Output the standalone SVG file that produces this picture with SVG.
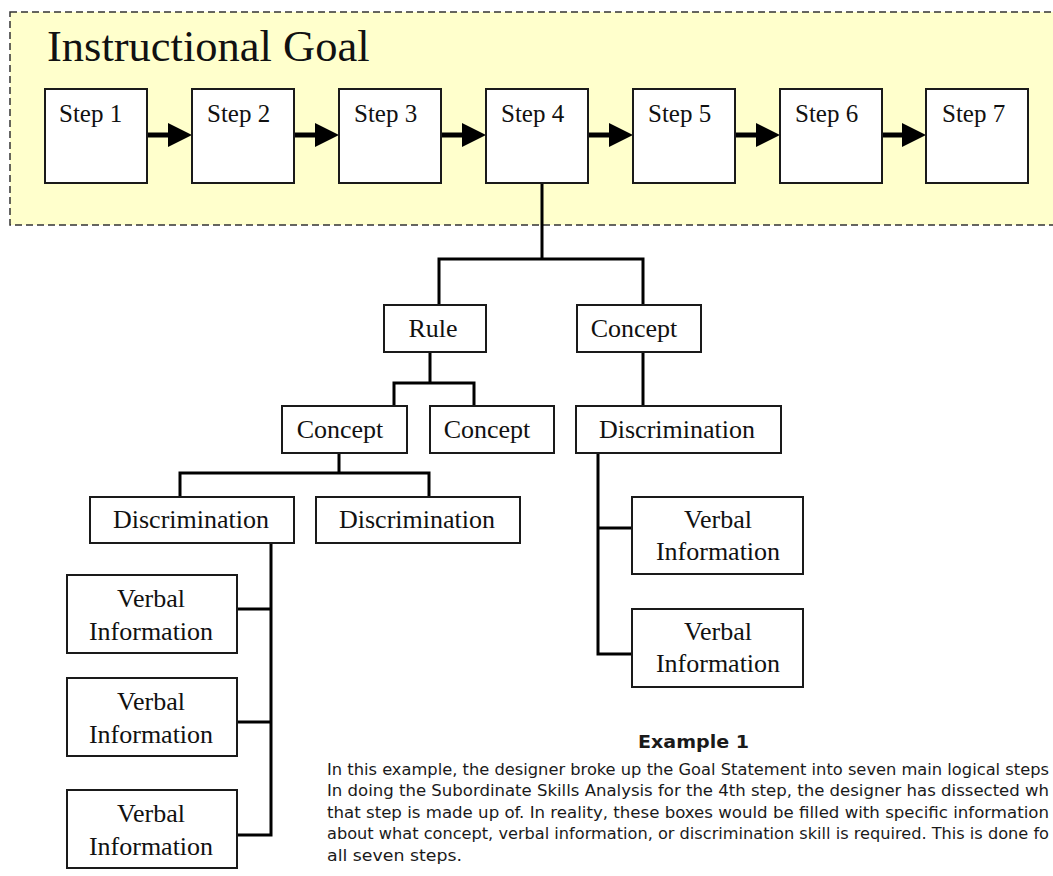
<svg xmlns="http://www.w3.org/2000/svg" width="1053" height="876" viewBox="0 0 1053 876">
  <defs>
    <style>
      .box { fill: #ffffff; stroke: #1a1a1a; stroke-width: 2; }
      .lbl { font-family: "Liberation Serif", "Times New Roman", serif; font-size: 26px; fill: #111; }
      .step { font-family: "Liberation Serif", "Times New Roman", serif; font-size: 25px; fill: #111; }
      .conn { fill: none; stroke: #000; stroke-width: 3; stroke-linejoin: miter; stroke-linecap: square; }
      .arrow { stroke: #000; stroke-width: 5; }
      .para { font-family: "DejaVu Sans Condensed", "DejaVu Sans", sans-serif; font-stretch: condensed; font-size: 16.5px; fill: #1a1a1a; }
    </style>
    <marker id="ah" markerUnits="userSpaceOnUse" markerWidth="24" markerHeight="24" refX="4" refY="12" orient="auto">
      <path d="M0,0 L24,12 L0,24 Z" fill="#000"/>
    </marker>
  </defs>

  <rect x="0" y="0" width="1053" height="876" fill="#ffffff"/>

  <g id="goal-frame">
    <rect x="10" y="12" width="1060" height="213" fill="#ffffcc" stroke="#333" stroke-width="1.5" stroke-dasharray="7 4"/>
    <text x="47" y="61" font-family="Liberation Serif, Times New Roman, serif" font-size="44.5" fill="#111">Instructional Goal</text>
  </g>

  <g id="connectors">
    <line class="arrow" x1="147" y1="135" x2="172" y2="135" marker-end="url(#ah)"/>
    <line class="arrow" x1="294" y1="135" x2="319" y2="135" marker-end="url(#ah)"/>
    <line class="arrow" x1="441" y1="135" x2="466" y2="135" marker-end="url(#ah)"/>
    <line class="arrow" x1="588" y1="135" x2="613" y2="135" marker-end="url(#ah)"/>
    <line class="arrow" x1="735" y1="135" x2="760" y2="135" marker-end="url(#ah)"/>
    <line class="arrow" x1="882" y1="135" x2="906" y2="135" marker-end="url(#ah)"/>
    <path class="conn" d="M542,183 V259 M439,305 V259 H643 V305"/>
    <path class="conn" d="M430,352 V383 M394,406 V383 H474 V406"/>
    <path class="conn" d="M643,352 V406"/>
    <path class="conn" d="M339,453 V473 M180,497 V473 H429 V497"/>
    <path class="conn" d="M271,543 V835 H237 M271,609 H237 M271,722 H237"/>
    <path class="conn" d="M598,453 V654 H632 M598,528 H632"/>
  </g>

  <g id="step1"><rect class="box" x="45" y="89" width="102" height="94"/><text class="step" x="59" y="122">Step 1</text></g>
  <g id="step2"><rect class="box" x="192" y="89" width="102" height="94"/><text class="step" x="207" y="122">Step 2</text></g>
  <g id="step3"><rect class="box" x="339" y="89" width="102" height="94"/><text class="step" x="354" y="122">Step 3</text></g>
  <g id="step4"><rect class="box" x="486" y="89" width="102" height="94"/><text class="step" x="501" y="122">Step 4</text></g>
  <g id="step5"><rect class="box" x="633" y="89" width="102" height="94"/><text class="step" x="648" y="122">Step 5</text></g>
  <g id="step6"><rect class="box" x="780" y="89" width="102" height="94"/><text class="step" x="795" y="122">Step 6</text></g>
  <g id="step7"><rect class="box" x="926" y="89" width="102" height="94"/><text class="step" x="942" y="122">Step 7</text></g>

  <g id="rule"><rect class="box" x="384" y="305" width="102" height="47"/><text class="lbl" x="433" y="337" text-anchor="middle">Rule</text></g>
  <g id="concept-top"><rect class="box" x="577" y="305" width="124" height="47"/><text class="lbl" x="634" y="337" text-anchor="middle">Concept</text></g>

  <g id="concept-left"><rect class="box" x="282" y="406" width="125" height="47"/><text class="lbl" x="340" y="438" text-anchor="middle">Concept</text></g>
  <g id="concept-mid"><rect class="box" x="430" y="406" width="124" height="47"/><text class="lbl" x="487" y="438" text-anchor="middle">Concept</text></g>
  <g id="discrimination-right"><rect class="box" x="576" y="406" width="205" height="47"/><text class="lbl" x="677" y="438" text-anchor="middle">Discrimination</text></g>

  <g id="discrimination-left"><rect class="box" x="90" y="497" width="204" height="46"/><text class="lbl" x="191" y="528" text-anchor="middle">Discrimination</text></g>
  <g id="discrimination-mid"><rect class="box" x="316" y="497" width="204" height="46"/><text class="lbl" x="417" y="528" text-anchor="middle">Discrimination</text></g>

  <g id="verbal-r1"><rect class="box" x="632" y="497" width="171" height="77"/><text class="lbl" x="718" y="528" text-anchor="middle">Verbal</text><text class="lbl" x="718" y="560" text-anchor="middle">Information</text></g>
  <g id="verbal-r2"><rect class="box" x="632" y="609" width="171" height="78"/><text class="lbl" x="718" y="640" text-anchor="middle">Verbal</text><text class="lbl" x="718" y="672" text-anchor="middle">Information</text></g>

  <g id="verbal-l1"><rect class="box" x="67" y="575" width="170" height="78"/><text class="lbl" x="151" y="607" text-anchor="middle">Verbal</text><text class="lbl" x="151" y="640" text-anchor="middle">Information</text></g>
  <g id="verbal-l2"><rect class="box" x="67" y="678" width="170" height="78"/><text class="lbl" x="151" y="710" text-anchor="middle">Verbal</text><text class="lbl" x="151" y="743" text-anchor="middle">Information</text></g>
  <g id="verbal-l3"><rect class="box" x="67" y="790" width="170" height="78"/><text class="lbl" x="151" y="822" text-anchor="middle">Verbal</text><text class="lbl" x="151" y="855" text-anchor="middle">Information</text></g>

  <g id="caption">
    <text x="638" y="748" font-family="DejaVu Sans, Verdana, sans-serif" font-size="18" font-weight="bold" fill="#1a1a1a" textLength="111" lengthAdjust="spacingAndGlyphs">Example 1</text>
    <text class="para" x="327" y="775" textLength="722" lengthAdjust="spacingAndGlyphs">In this example, the designer broke up the Goal Statement into seven main logical steps</text>
    <text class="para" x="327" y="796" textLength="722" lengthAdjust="spacingAndGlyphs">In doing the Subordinate Skills Analysis for the 4th step, the designer has dissected wh</text>
    <text class="para" x="327" y="818" textLength="722" lengthAdjust="spacingAndGlyphs">that step is made up of.  In reality, these boxes would be filled with specific information</text>
    <text class="para" x="327" y="839" textLength="722" lengthAdjust="spacingAndGlyphs">about what concept, verbal information, or discrimination skill is required. This is done fo</text>
    <text class="para" x="327" y="861" textLength="135" lengthAdjust="spacingAndGlyphs">all seven steps.</text>
  </g>
</svg>
